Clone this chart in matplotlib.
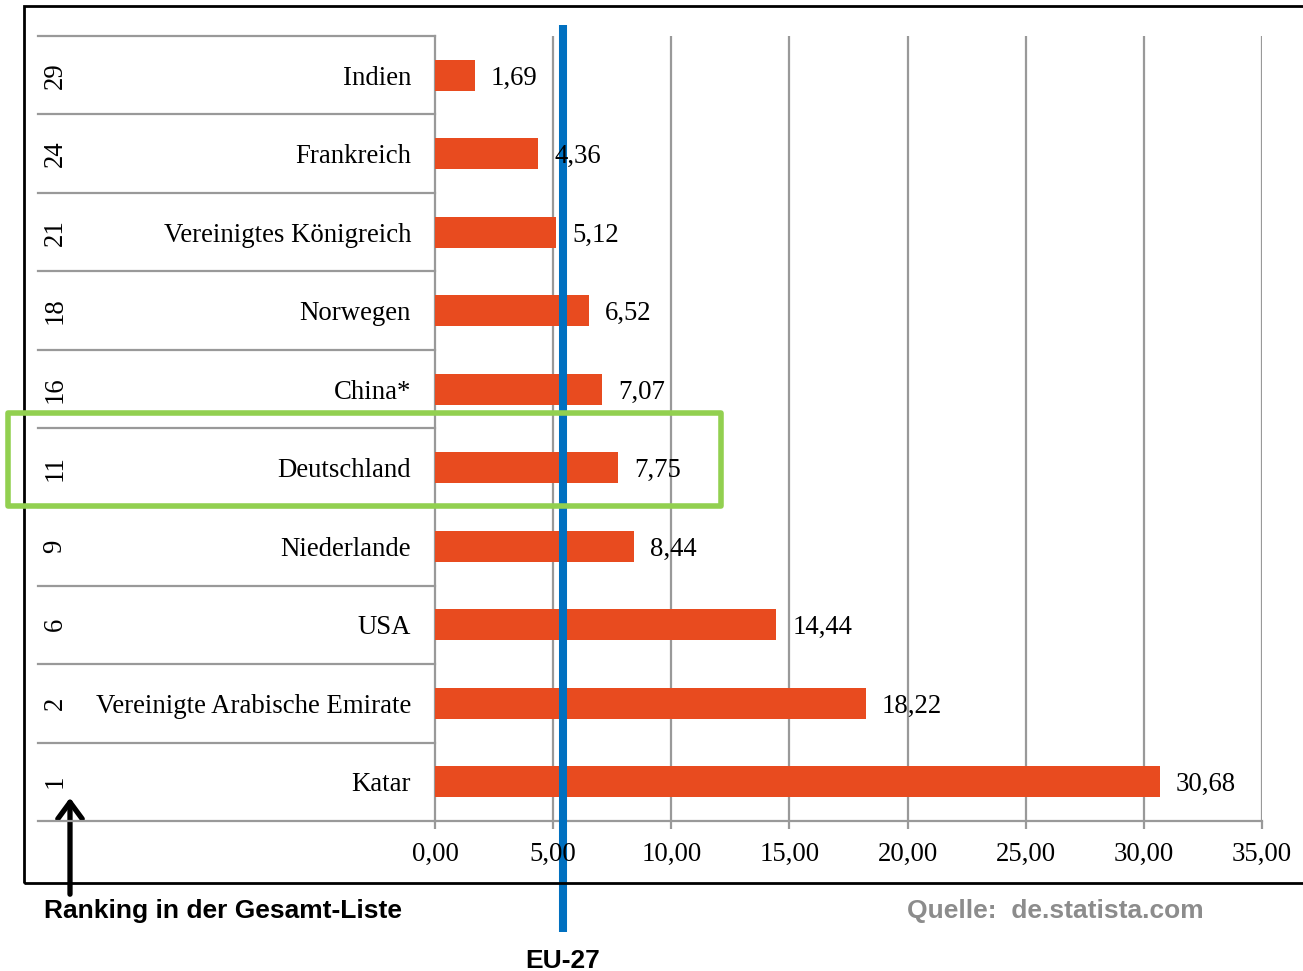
import matplotlib
matplotlib.use("Agg")
import matplotlib.pyplot as plt
from matplotlib.patches import Rectangle, FancyArrowPatch
from matplotlib.lines import Line2D
import matplotlib.transforms as mtransforms

countries = ["Indien", "Frankreich", "Vereinigtes Königreich", "Norwegen", "China*",
             "Deutschland", "Niederlande", "USA", "Vereinigte Arabische Emirate", "Katar"]
ranks = ["29", "24", "21", "18", "16", "11", "9", "6", "2", "1"]
values = [1.69, 4.36, 5.12, 6.52, 7.07, 7.75, 8.44, 14.44, 18.22, 30.68]
eu27_value = 5.4
xticks = [0, 5, 10, 15, 20, 25, 30, 35]
highlight = "Deutschland"

W, H = 1303, 971
fig = plt.figure(figsize=(W / 100, H / 100), dpi=100)

def fx(px):
    return px / W

def fy(py):
    return 1 - py / H

serif = ["Liberation Serif", "DejaVu Serif"]
sans = ["Liberation Sans", "DejaVu Sans"]
fs = 19.3
fsb = 19
grid_c = "#999999"
grid_lw = 1.6
bar_c = "#E84B1F"

ax = fig.add_axes([fx(435), fy(821), fx(1262) - fx(435), fy(36) - fy(821)])
n = len(countries)
ypos = list(range(n))
ax.barh(ypos, values, height=0.4, color=bar_c, zorder=3)
ax.set_xlim(0, 35)
ax.set_ylim(n - 0.5, -0.5)
ax.set_yticks([])
ax.set_xticks(xticks)
ax.set_xticklabels([f"{t:.2f}".replace(".", ",") for t in xticks],
                   fontfamily=serif, fontsize=fs)
ax.tick_params(axis="x", length=6, width=grid_lw, color=grid_c, pad=9)
ax.xaxis.set_zorder(8)
for s in ["top", "right"]:
    ax.spines[s].set_visible(False)
for s in ["left", "bottom"]:
    ax.spines[s].set_color(grid_c)
    ax.spines[s].set_linewidth(grid_lw)
for t in xticks[1:]:
    ax.axvline(t, color=grid_c, lw=grid_lw, zorder=1)

for i, v in enumerate(values):
    ax.text(v + 0.68, i, f"{v:.2f}".replace(".", ","), va="center_baseline", ha="left",
            fontfamily=serif, fontsize=fs, zorder=6)

# EU-27 line (inside axes so value labels sit on top of it)
bl = mtransforms.blended_transform_factory(ax.transData, fig.transFigure)
ax.add_line(Line2D([eu27_value, eu27_value], [fy(25), fy(932)], transform=bl,
                   color="#0070C0", lw=5.8, solid_capstyle="butt", zorder=4,
                   clip_on=False))
fig.text(eu27_value, fy(961), "EU-27", transform=bl, ha="center", va="center",
         fontfamily=sans, fontsize=fsb, fontweight="bold")

# label table
tb = mtransforms.blended_transform_factory(fig.transFigure, ax.transData)
for k in range(n + 1):
    fig.add_artist(Line2D([fx(38), fx(435)], [k - 0.5, k - 0.5], transform=tb,
                          color=grid_c, lw=grid_lw))
for i in range(n):
    fig.text(fx(55), i, ranks[i], transform=tb, rotation=90, ha="center", va="center",
             fontfamily=serif, fontsize=fs)
    fig.text(fx(411), i, countries[i], transform=tb, ha="right", va="center_baseline",
             fontfamily=serif, fontsize=fs)

# outer frame
fig.add_artist(Rectangle((fx(24), fy(883)), fx(1400) - fx(24), fy(6) - fy(883),
                         transform=fig.transFigure, fill=False, ec="black", lw=2))

# highlight box
fig.add_artist(Rectangle((fx(8), fy(506)), fx(721) - fx(8), fy(413) - fy(506),
                         transform=fig.transFigure, fill=False, ec="#92D050", lw=4,
                         joinstyle="round", zorder=6))

# arrow
fig.add_artist(FancyArrowPatch((fx(70), fy(897)), (fx(70), fy(795)),
                               transform=fig.transFigure,
                               arrowstyle="->,head_width=0.22,head_length=0.3",
                               mutation_scale=40, lw=3.8, color="black",
                               capstyle="round", joinstyle="round"))
fig.text(fx(44), fy(911), "Ranking in der Gesamt-Liste", ha="left", va="center",
         fontfamily=sans, fontsize=fsb, fontweight="bold")
fig.text(fx(907), fy(911), "Quelle:  de.statista.com", ha="left", va="center",
         fontfamily=sans, fontsize=fsb, fontweight="bold", color="#8C8C8C")

fig.savefig("out.png", dpi=100)
